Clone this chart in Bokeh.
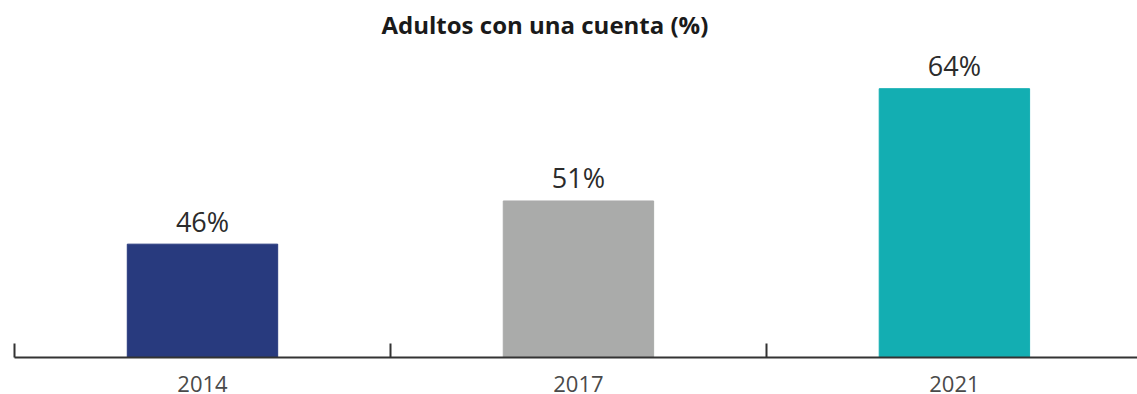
from bokeh.plotting import figure
from bokeh.models import ColumnDataSource, FixedTicker, Range1d
from bokeh.embed import file_html
from bokeh.resources import INLINE
from bokeh.core.properties import value

# Share of adults with an account, by survey year
years = ["2014", "2017", "2021"]
shares = [46, 51, 64]
bar_colors = ["#283A7E", "#AAABAA", "#13AEB2"]

xpos = list(range(len(years)))
value_labels = [f"{v}%" for v in shares]
boundaries = [i - 0.5 for i in xpos]

src = ColumnDataSource(dict(x=xpos, top=shares, color=bar_colors, label=value_labels))

base = 32.88
p = figure(
    width=1137, height=394,
    output_backend="svg", toolbar_location=None,
    x_range=Range1d(-0.5, 2.487), y_range=Range1d(base, 69.0),
    min_border_left=14, min_border_right=0, min_border_top=12, min_border_bottom=0,
    title="Adultos con una cuenta (%)",
)

p.vbar(x="x", top="top", bottom=base, width=0.4, color="color", source=src)

p.text(
    x="x", y="top", text="label", source=src,
    text_align="center", text_baseline="alphabetic", y_offset=-23,
    text_font=value("Open Sans"), text_font_size="27px", text_color="#2b2b2b",
)

# title
p.title.text_font = "Open Sans"
p.title.text_font_size = "24px"
p.title.text_font_style = "bold"
p.title.text_color = "#1a1a1a"
p.title.align = "left"
p.title.offset = 367

# x axis: category names at the centres, ticks at the boundaries
ax = p.xaxis[0]
ax.ticker = FixedTicker(ticks=xpos, minor_ticks=boundaries)
ax.major_label_overrides = {i: y for i, y in zip(xpos, years)}
ax.major_tick_line_color = None
ax.major_tick_in = 0
ax.major_tick_out = 0
ax.minor_tick_in = 14
ax.minor_tick_out = 0
ax.minor_tick_line_width = 2
ax.minor_tick_line_color = "#333333"
ax.axis_line_width = 2
ax.axis_line_color = "#333333"
ax.major_label_text_font = "Open Sans"
ax.major_label_text_font_size = "22px"
ax.major_label_text_line_height = 1.0
ax.major_label_text_color = "#4a4a4a"
ax.major_label_standoff = 18

p.yaxis.visible = False
p.xgrid.visible = False
p.ygrid.visible = False
p.outline_line_color = None

open("out.html", "w").write(file_html(p, INLINE))
